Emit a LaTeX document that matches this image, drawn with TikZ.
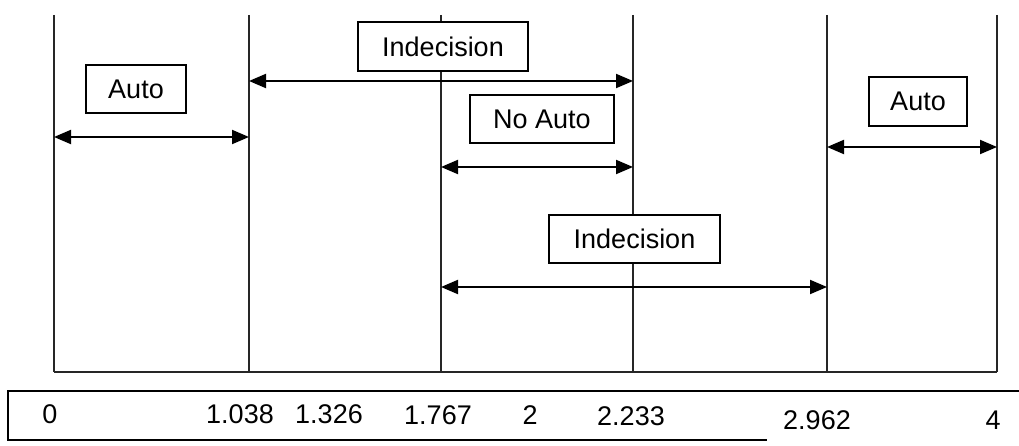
\documentclass[tikz,border=0pt]{standalone}
\usepackage{fontspec}
\setmainfont{Liberation Sans}
\usetikzlibrary{arrows.meta}
\begin{document}
\begin{tikzpicture}[x=1pt,y=-1pt,
  vline/.style={line width=1.3pt,black!85},
  span/.style={line width=2pt,{Triangle[length=17pt,width=14pt]}-{Triangle[length=17pt,width=14pt]}},
  lbox/.style={draw,line width=1.5pt,fill=white,inner sep=0pt,font=\fontsize{27}{32}\selectfont},
  num/.style={inner sep=0pt,font=\fontsize{27}{32}\selectfont}]
\useasboundingbox (0,0) rectangle (1019,446);
% vertical boundaries
\foreach \n/\x in {0/54,1/249,2/441,3/633,4/827,5/997}{
  \coordinate (t\n) at (\x,15);
  \coordinate (b\n) at (\x,372);
  \draw[vline] (t\n) -- (b\n);
}
\draw[vline] (b0) -- (b5);
% arrows
\draw[span] (54,137) coordinate (al1) -- (249,137) coordinate (al2);
\draw[span] (249,81) coordinate (i1l) -- (633,81) coordinate (i1r);
\draw[span] (441,167) coordinate (nal) -- (633,167) coordinate (nar);
\draw[span] (827,147) coordinate (arl) -- (997,147) coordinate (arr);
\draw[span] (441,287) coordinate (i2l) -- (827,287) coordinate (i2r);
% label boxes
\node[lbox,minimum width=100pt,minimum height=48pt] (autoL) at (136,89) {Auto};
\node[lbox,minimum width=170pt,minimum height=49pt] (ind1) at (443,46.5) {Indecision};
\node[lbox,minimum width=144pt,minimum height=48pt] (noauto) at (542,119) {No Auto};
\node[lbox,minimum width=98pt,minimum height=49pt] (autoR) at (918,101.5) {Auto};
\node[lbox,minimum width=171pt,minimum height=48pt] (ind2) at (634.5,239) {Indecision};
% scale strip
\coordinate (sTR) at (1019,391);
\coordinate (sTL) at (8,391);
\coordinate (sBL) at (8,440);
\coordinate (sBR) at (767,440);
\draw[line width=1.5pt] (sTR) -- (sTL) -- (sBL) -- (sBR);
\node[num] (n0) at (50,414) {0};
\node[num] (n1) at (240,414) {1.038};
\node[num] (n2) at (329,414) {1.326};
\node[num] (n3) at (438,415) {1.767};
\node[num] (n4) at (530,415) {2};
\node[num] (n5) at (631,416) {2.233};
\node[num] (n6) at (817,420) {2.962};
\node[num] (n7) at (993,420) {4};
\end{tikzpicture}
\end{document}
